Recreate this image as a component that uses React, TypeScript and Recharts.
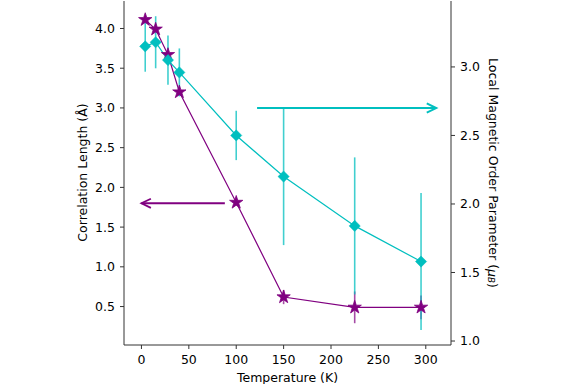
import React from 'react';
import { ComposedChart, Line, XAxis, YAxis, ErrorBar, ReferenceLine, Label } from 'recharts';

// temperature points (K)
const temperatures = [4, 15, 28, 40, 100, 150, 225, 295];
// correlation length (Å), left axis
const correlationLength = [4.11, 3.99, 3.67, 3.2, 1.81, 0.62, 0.49, 0.49];
const correlationError = [0.04, 0.04, 0.04, 0.04, 0.04, 0.09, 0.2, 0.15];
// local magnetic order parameter (μB), right axis
const magneticOrder = [3.15, 3.18, 3.05, 2.96, 2.5, 2.2, 1.84, 1.58];
const magneticError = [0.185, 0.19, 0.18, 0.175, 0.18, 0.5, 0.5, 0.5];

const xTicks = [0, 50, 100, 150, 200, 250, 300];
const leftTicks = [0.5, 1.0, 1.5, 2.0, 2.5, 3.0, 3.5, 4.0];
const rightTicks = [1.0, 1.5, 2.0, 2.5, 3.0];

// arrows pointing to each series' axis
const corrArrowX = [88, 0];
const corrArrowY = 1.8;
const orderArrowX = [122, 311];
const orderArrowY = 2.7;

const PURPLE = '#800080';
const CYAN = '#00bfbf';
const AXIS = '#333';
const FONT = '"DejaVu Sans", sans-serif';
const FS = 12.5;

const data = temperatures.map((t, i) => ({
  temperature: t,
  corr: correlationLength[i],
  corrErr: correlationError[i],
  order: magneticOrder[i],
  orderErr: magneticError[i],
}));

const Star = (props: any) => {
  const { cx, cy } = props;
  if (cx == null || cy == null) return <g />;
  const R = 7;
  const r = R * 0.382;
  const pts: string[] = [];
  for (let k = 0; k < 10; k++) {
    const rad = k % 2 === 0 ? R : r;
    const a = (Math.PI / 5) * k - Math.PI / 2;
    pts.push(`${cx + rad * Math.cos(a)},${cy + rad * Math.sin(a)}`);
  }
  return <polygon points={pts.join(' ')} fill={PURPLE} stroke={PURPLE} strokeWidth={0.8} />;
};

const Diamond = (props: any) => {
  const { cx, cy } = props;
  if (cx == null || cy == null) return <g />;
  const d = 5.6;
  return (
    <polygon
      points={`${cx},${cy - d} ${cx + d},${cy} ${cx},${cy + d} ${cx - d},${cy}`}
      fill={CYAN}
      stroke={CYAN}
      strokeWidth={0.5}
    />
  );
};

const arrowShape = (color: string, width: number) => (props: any) => {
  const { x1, y1, x2, y2 } = props;
  const ang = Math.atan2(y2 - y1, x2 - x1);
  const len = 10.5;
  const spread = 0.45;
  const ax = x2 - len * Math.cos(ang - spread);
  const ay = y2 - len * Math.sin(ang - spread);
  const bx = x2 - len * Math.cos(ang + spread);
  const by = y2 - len * Math.sin(ang + spread);
  return (
    <g>
      <line x1={x1} y1={y1} x2={x2} y2={y2} stroke={color} strokeWidth={width} />
      <polyline
        points={`${ax},${ay} ${x2},${y2} ${bx},${by}`}
        fill="none"
        stroke={color}
        strokeWidth={width}
      />
    </g>
  );
};

const LeftTitle = () => (
  <text
    x={82}
    y={172.5}
    transform="rotate(-90 82 172.5)"
    textAnchor="middle"
    dominantBaseline="central"
    fontSize={FS}
    fontFamily={FONT}
    fill="#000"
  >
    Correlation Length (Å)
  </text>
);

const RightTitle = () => (
  <text
    x={493}
    y={173}
    transform="rotate(90 493 173)"
    textAnchor="middle"
    dominantBaseline="central"
    fontSize={FS}
    fontFamily={FONT}
    fill="#000"
  >
    Local Magnetic Order Parameter (<tspan fontStyle="italic">μ</tspan>
    <tspan fontStyle="italic" fontSize={8.8} dy={2.5}>B</tspan>
    <tspan dy={-2.5}>)</tspan>
  </text>
);

const tickStyle = { fill: '#000', fontSize: FS, fontFamily: FONT };

export default function App() {
  return (
    <div style={{ width: 576, height: 384, background: '#fff', fontFamily: FONT }}>
      <style>{'body{margin:0}'}</style>
      <ComposedChart width={576} height={384} data={data} margin={{ top: 1, right: 0, bottom: 0, left: 0 }}>
        <XAxis
          dataKey="temperature"
          type="number"
          domain={[-18.4, 326.6]}
          ticks={xTicks}
          allowDataOverflow
          stroke={AXIS}
          tickSize={4}
          tickMargin={6}
          tick={tickStyle}
          height={39}
        >
          <Label
            content={() => (
              <text x={287.5} y={377} textAnchor="middle" dominantBaseline="central" fontSize={FS} fontFamily={FONT} fill="#000">
                Temperature (K)
              </text>
            )}
          />
        </XAxis>
        <XAxis
          xAxisId="top"
          orientation="top"
          type="number"
          domain={[-18.4, 326.6]}
          height={0}
          tick={false}
          tickLine={false}
          stroke={AXIS}
        />
        <YAxis
          yAxisId="left"
          type="number"
          domain={[0.016, 4.346]}
          ticks={leftTicks}
          allowDataOverflow
          tickFormatter={(v: number) => v.toFixed(1)}
          stroke={AXIS}
          tickSize={4}
          tickMargin={5}
          tick={tickStyle}
          width={124}
        >
          <Label content={() => <LeftTitle />} />
        </YAxis>
        <YAxis
          yAxisId="right"
          orientation="right"
          type="number"
          domain={[0.971, 3.481]}
          ticks={rightTicks}
          allowDataOverflow
          tickFormatter={(v: number) => v.toFixed(1)}
          stroke={AXIS}
          tickSize={4}
          tickMargin={5}
          tick={tickStyle}
          width={125}
        >
          <Label content={() => <RightTitle />} />
        </YAxis>

        <Line
          yAxisId="left"
          dataKey="corr"
          stroke={PURPLE}
          strokeWidth={1.2}
          dot={(p: any) => <Star key={`s-${p.index}`} {...p} />}
          activeDot={false}
          isAnimationActive={false}
        >
          <ErrorBar dataKey="corrErr" direction="y" width={0} stroke={PURPLE} strokeOpacity={0.7} strokeWidth={1.6} isAnimationActive={false} />
        </Line>
        <Line
          yAxisId="right"
          dataKey="order"
          stroke={CYAN}
          strokeWidth={1.2}
          dot={(p: any) => <Diamond key={`d-${p.index}`} {...p} />}
          activeDot={false}
          isAnimationActive={false}
        >
          <ErrorBar dataKey="orderErr" direction="y" width={0} stroke={CYAN} strokeOpacity={0.75} strokeWidth={1.6} isAnimationActive={false} />
        </Line>

        <ReferenceLine
          yAxisId="left"
          segment={[
            { x: corrArrowX[0], y: corrArrowY },
            { x: corrArrowX[1], y: corrArrowY },
          ]}
          shape={arrowShape(PURPLE, 1.8)}
        />
        <ReferenceLine
          yAxisId="right"
          segment={[
            { x: orderArrowX[0], y: orderArrowY },
            { x: orderArrowX[1], y: orderArrowY },
          ]}
          shape={arrowShape(CYAN, 2)}
        />
      </ComposedChart>
    </div>
  );
}
